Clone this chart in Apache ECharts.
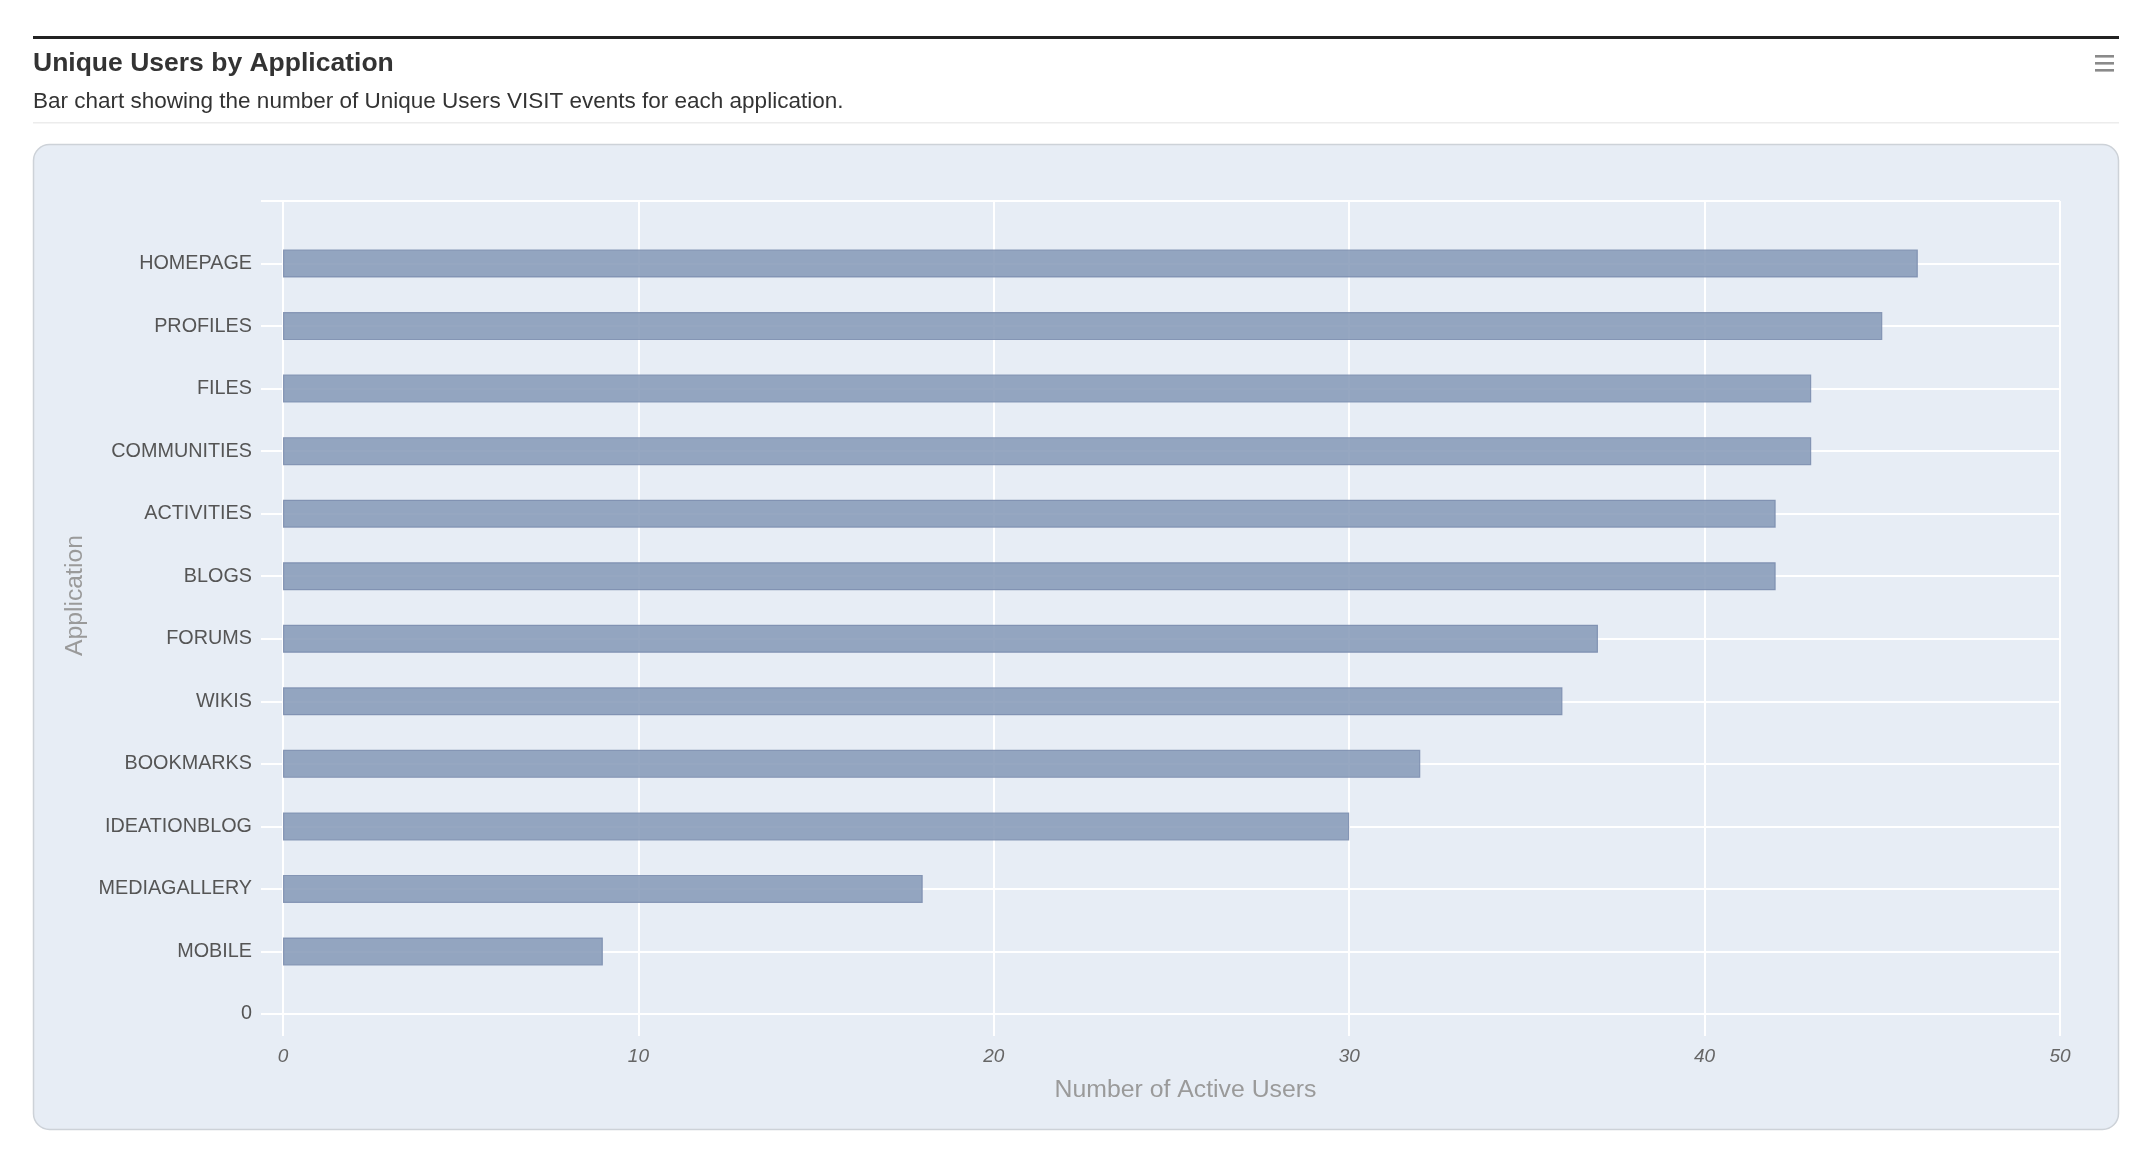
<!DOCTYPE html>
<html>
<head>
<meta charset="utf-8">
<script src="https://cdn.jsdelivr.net/npm/echarts@6/dist/echarts.min.js"></script>
<style>
  html, body { margin: 0; padding: 0; background: #ffffff; }
  #chart { width: 2146px; height: 1156px; }
</style>
</head>
<body>
<div id="chart"></div>
<script>
// ---- data (top to bottom as shown) ----
const categories = ['HOMEPAGE', 'PROFILES', 'FILES', 'COMMUNITIES', 'ACTIVITIES', 'BLOGS',
  'FORUMS', 'WIKIS', 'BOOKMARKS', 'IDEATIONBLOG', 'MEDIAGALLERY', 'MOBILE'];
const uniqueUsers = [46, 45, 43, 43, 42, 42, 37, 36, 32, 30, 18, 9];
const yEdgeLabels = ['0', ''];          // bottom and top slot labels of the category axis
const xTicks = { min: 0, max: 50, interval: 10 };
const titleText = 'Unique Users by Application';
const subtitleText = 'Bar chart showing the number of Unique Users VISIT events for each application.';
const xAxisName = 'Number of Active Users';
const yAxisName = 'Application';

// category axis runs bottom -> top
const yData = [yEdgeLabels[0]].concat(categories.slice().reverse(), [yEdgeLabels[1]]);
const barData = ['-'].concat(uniqueUsers.slice().reverse(), ['-']);

const FONT = "'Liberation Sans', Arial, Helvetica, sans-serif";
const chart = echarts.init(document.getElementById('chart'), null, { renderer: 'canvas' });

chart.setOption({
  animation: false,
  backgroundColor: '#ffffff',
  textStyle: { fontFamily: FONT },
  title: {
    left: 33, top: 50,
    padding: 0,
    text: titleText,
    subtext: subtitleText,
    itemGap: 12,
    textStyle: { fontFamily: FONT, fontSize: 26.5, fontWeight: 'bold', color: '#333333', lineHeight: 28 },
    subtextStyle: { fontFamily: FONT, fontSize: 22.5, color: '#333333', lineHeight: 24 }
  },
  graphic: [
    { type: 'rect', z: -100, silent: true,
      shape: { x: 33, y: 36, width: 2086, height: 3 }, style: { fill: '#222222' } },
    { type: 'rect', z: -100, silent: true,
      shape: { x: 33, y: 122, width: 2086, height: 1.5 }, style: { fill: '#ececec' } },
    { type: 'rect', z: -100, silent: true,
      shape: { x: 2095, y: 55, width: 19, height: 2.6 }, style: { fill: '#8a8a8a' } },
    { type: 'rect', z: -100, silent: true,
      shape: { x: 2095, y: 62, width: 19, height: 2.6 }, style: { fill: '#8a8a8a' } },
    { type: 'rect', z: -100, silent: true,
      shape: { x: 2095, y: 69, width: 19, height: 2.6 }, style: { fill: '#8a8a8a' } },
    { type: 'rect', z: -100, silent: true,
      shape: { x: 33.5, y: 144.5, width: 2085, height: 985, r: 16 },
      style: { fill: '#e7edf5', stroke: '#cdd2d8', lineWidth: 1.5 } }
  ],
  grid: { left: 283, right: 86, top: 201, bottom: 142, containLabel: false },
  xAxis: {
    type: 'value',
    min: xTicks.min, max: xTicks.max, interval: xTicks.interval,
    name: xAxisName,
    nameLocation: 'middle',
    nameGap: 64,
    nameTextStyle: { fontFamily: FONT, fontSize: 24.8, color: '#9a9a9a', padding: [0, 0, 0, 28] },
    axisLine: { show: false },
    axisTick: { show: true, length: 22, lineStyle: { color: '#ffffff', width: 2 } },
    axisLabel: { margin: 33, fontFamily: FONT, fontSize: 19, fontStyle: 'italic', color: '#666666' },
    splitLine: { show: true, showMinLine: true, showMaxLine: true, lineStyle: { color: '#ffffff', width: 2 } }
  },
  yAxis: {
    type: 'category',
    data: yData,
    boundaryGap: false,
    name: yAxisName,
    nameLocation: 'middle',
    nameGap: 191,
    nameTextStyle: { fontFamily: FONT, fontSize: 24.7, color: '#9a9a9a', padding: [0, 0, 0, 24] },
    axisLine: { show: true, lineStyle: { color: '#ffffff', width: 2 } },
    axisTick: { show: true, length: 22, lineStyle: { color: '#ffffff', width: 2 } },
    axisLabel: { margin: 31, fontFamily: FONT, fontSize: 19.8, color: '#555555', interval: 0 },
    splitLine: { show: true, interval: 0, lineStyle: { color: '#ffffff', width: 2 } }
  },
  series: [{
    type: 'bar',
    data: barData,
    barWidth: 28,
    itemStyle: { color: '#8598b7', opacity: 0.86, borderColor: '#7a8cad', borderWidth: 1.2 },
    emphasis: { disabled: true }
  }]
});
</script>
</body>
</html>
